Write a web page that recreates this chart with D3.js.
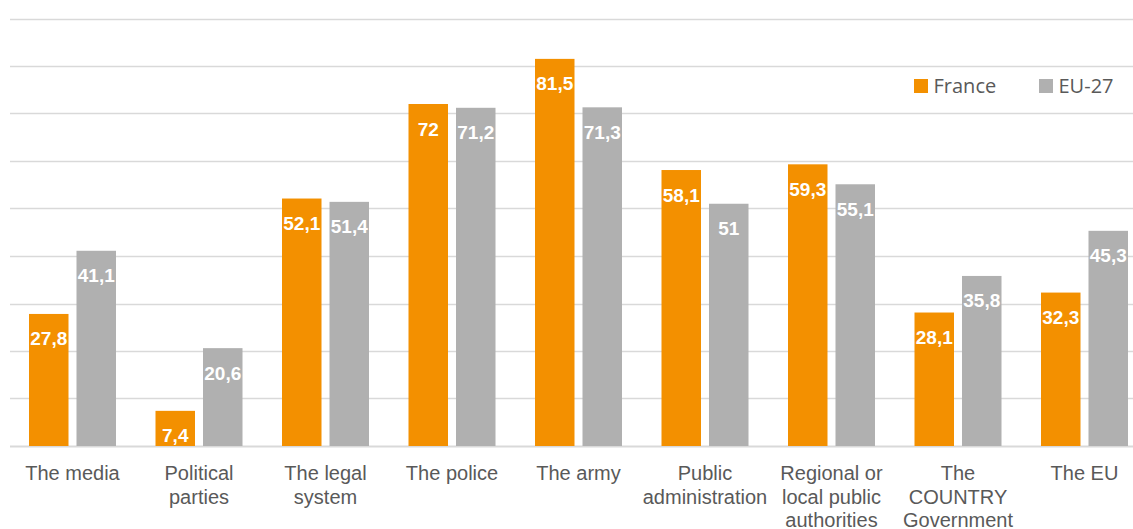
<!DOCTYPE html>
<html>
<head>
<meta charset="utf-8">
<script src="https://cdn.jsdelivr.net/npm/d3@7"></script>
<style>
  html, body { margin: 0; padding: 0; background: #fff; }
  svg { display: block; }
</style>
</head>
<body>
<svg id="chart" width="1133" height="529"></svg>
<script>
const categories = ["The media", "Political\nparties", "The legal\nsystem", "The police", "The army",
  "Public\nadministration", "Regional or\nlocal public\nauthorities", "The\nCOUNTRY\nGovernment", "The EU"];
const seriesNames = ["France", "EU-27"];
const franceValues = [27.8, 7.4, 52.1, 72, 81.5, 58.1, 59.3, 28.1, 32.3];
const euValues = [41.1, 20.6, 51.4, 71.2, 71.3, 51, 55.1, 35.8, 45.3];
const gridTicks = [0, 10, 20, 30, 40, 50, 60, 70, 80, 90];

const colors = { "France": "#F39000", "EU-27": "#B0B0B0" };
const svg = d3.select("#chart");

const x0 = d3.scaleBand().domain(categories).range([9.25, 1147.75]).paddingInner(0).paddingOuter(0);
const bandW = x0.bandwidth();
const barW = 39.5, gap = 8;
const x1 = d3.scaleBand().domain(seriesNames)
  .range([(bandW - (2 * barW + gap)) / 2, (bandW + (2 * barW + gap)) / 2])
  .paddingInner(gap / (barW + gap)).paddingOuter(0);
const y = d3.scaleLinear().domain([0, 90]).range([446, 18.5]);

// gridlines
svg.append("g").selectAll("line").data(gridTicks).join("line")
  .attr("x1", 10).attr("x2", 1133)
  .attr("y1", d => Math.round(y(d)) + 0.5).attr("y2", d => Math.round(y(d)) + 0.5)
  .attr("stroke", "#D9D9D9").attr("stroke-width", d => d === 0 ? 2 : 1.3);

const rows = categories.map((c, i) => ({ cat: c, vals: [
  { s: "France", v: franceValues[i] }, { s: "EU-27", v: euValues[i] }] }));

const groups = svg.append("g").selectAll("g").data(rows).join("g")
  .attr("transform", d => `translate(${x0(d.cat)},0)`);

groups.selectAll("rect").data(d => d.vals).join("rect")
  .attr("x", d => x1(d.s)).attr("width", x1.bandwidth())
  .attr("y", d => y(d.v)).attr("height", d => y(0) - y(d.v))
  .attr("fill", d => colors[d.s]);

groups.selectAll("text.val").data(d => d.vals).join("text")
  .attr("class", "val")
  .attr("x", d => x1(d.s) + x1.bandwidth() / 2)
  .attr("y", d => y(d.v) + 31.5)
  .attr("text-anchor", "middle")
  .attr("font-family", "'Liberation Sans', Arial, sans-serif")
  .attr("font-weight", "bold").attr("font-size", 19)
  .attr("fill", "#fff")
  .text(d => String(d.v).replace(".", ","));

// category labels
const xAxisG = svg.append("g");
categories.forEach(c => {
  const t = xAxisG.append("text")
    .attr("x", x0(c) + bandW / 2).attr("y", 480)
    .attr("text-anchor", "middle")
    .attr("font-family", "'Liberation Sans', Arial, sans-serif")
    .attr("font-size", 20).attr("fill", "#595959");
  c.split("\n").forEach((line, j) => {
    t.append("tspan").attr("x", x0(c) + bandW / 2).attr("dy", j === 0 ? 0 : 23.5).text(line);
  });
});

// legend
const legend = svg.append("g");
const legendX = [914, 1039];
seriesNames.forEach((s, i) => {
  legend.append("rect").attr("x", legendX[i]).attr("y", 79).attr("width", 14).attr("height", 14)
    .attr("fill", colors[s]);
  legend.append("text").attr("x", legendX[i] + 19.5).attr("y", 93)
    .attr("font-family", "'Open Sans', sans-serif").attr("font-size", 20)
    .attr("fill", "#595959").text(s);
});
</script>
</body>
</html>
